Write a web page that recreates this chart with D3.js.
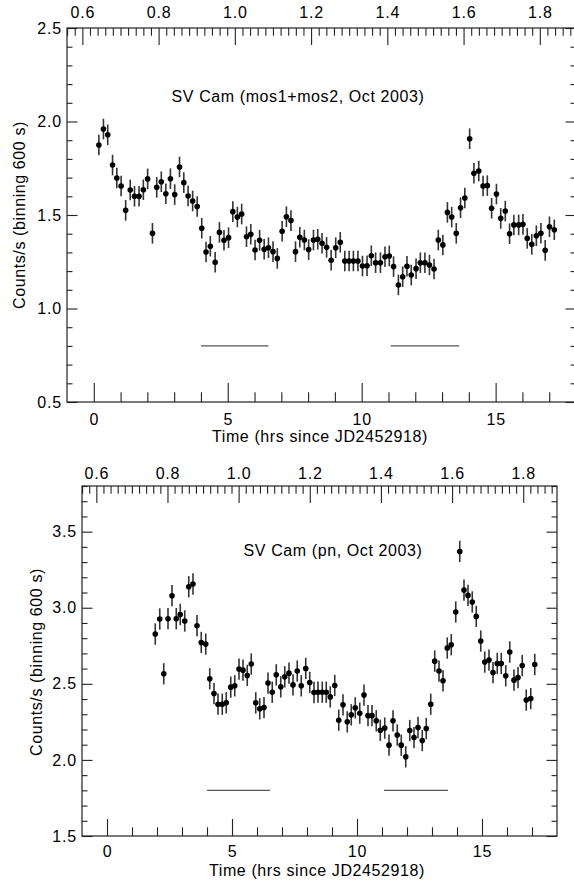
<!DOCTYPE html>
<html>
<head>
<meta charset="utf-8">
<script src="https://cdn.jsdelivr.net/npm/d3@7"></script>
<style>
  body { margin: 0; background: #fff; }
  svg { display: block; }
  text { font-family: "Liberation Sans", Arial, Helvetica, sans-serif; fill: #000; }
</style>
</head>
<body>
<svg id="chart" width="574" height="881"></svg>
<script>
// light curves of SV Cam, counts/s in 600 s bins, time in hrs since JD2452918
const mosTime = [0.19,0.36,0.52,0.70,0.86,1.02,1.19,1.36,1.52,1.69,1.85,2.01,2.19,2.35,2.52,2.69,2.86,3.02,3.20,3.36,
  3.52,3.69,3.86,4.03,4.19,4.35,4.53,4.69,4.86,5.03,5.19,5.36,5.52,5.70,5.86,6.02,6.19,6.36,6.52,6.69,
  6.85,7.03,7.19,7.36,7.53,7.69,7.86,8.02,8.20,8.36,8.52,8.69,8.86,9.03,9.20,9.37,9.53,9.69,9.86,10.03,
  10.20,10.36,10.52,10.70,10.87,11.03,11.19,11.37,11.53,11.69,11.85,12.03,12.19,12.36,12.53,12.70,12.86,13.03,13.20,13.36,
  13.53,13.69,13.85,14.03,14.19,14.37,14.53,14.69,14.85,15.03,15.19,15.36,15.52,15.68,15.86,16.02,16.18,16.35,16.52,16.69,
  16.85,17.01,17.19];
const mosRate = [1.874,1.960,1.929,1.767,1.698,1.655,1.525,1.634,1.600,1.600,1.635,1.693,1.402,1.648,1.678,1.614,1.694,1.609,1.757,1.673,
  1.602,1.575,1.545,1.429,1.302,1.333,1.247,1.407,1.365,1.379,1.518,1.489,1.505,1.384,1.397,1.313,1.365,1.317,1.325,1.304,
  1.268,1.413,1.491,1.470,1.304,1.381,1.366,1.315,1.366,1.370,1.349,1.327,1.258,1.325,1.354,1.254,1.254,1.254,1.254,1.227,
  1.229,1.282,1.245,1.245,1.277,1.281,1.224,1.126,1.170,1.226,1.179,1.213,1.245,1.245,1.233,1.211,1.366,1.340,1.514,1.489,
  1.402,1.539,1.591,1.908,1.723,1.735,1.655,1.657,1.536,1.612,1.482,1.521,1.400,1.447,1.447,1.450,1.375,1.343,1.389,1.402,
  1.311,1.437,1.421];
const mosErr = 0.055;

const pnTime = [1.93,2.11,2.27,2.44,2.60,2.77,2.93,3.11,3.27,3.44,3.60,3.77,3.95,4.11,4.28,4.44,4.61,4.77,4.95,5.11,
  5.28,5.44,5.61,5.77,5.95,6.11,6.28,6.44,6.61,6.77,6.95,7.11,7.28,7.44,7.61,7.77,7.95,8.11,8.28,8.44,
  8.61,8.77,8.93,9.11,9.27,9.44,9.61,9.77,9.93,10.11,10.28,10.44,10.60,10.77,10.93,11.11,11.28,11.44,11.61,11.77,
  11.95,12.11,12.28,12.44,12.61,12.77,12.95,13.11,13.28,13.44,13.61,13.77,13.95,14.11,14.28,14.44,14.61,14.77,14.95,15.11,
  15.28,15.44,15.61,15.77,15.95,16.11,16.28,16.44,16.61,16.77,16.95,17.11];
const pnRate = [2.827,2.926,2.566,2.928,3.079,2.928,2.956,2.913,3.138,3.156,2.882,2.772,2.761,2.533,2.436,2.366,2.366,2.375,2.478,2.487,
  2.597,2.590,2.555,2.630,2.375,2.336,2.344,2.505,2.445,2.559,2.480,2.546,2.570,2.493,2.584,2.487,2.601,2.509,2.443,2.445,
  2.445,2.445,2.414,2.489,2.261,2.362,2.250,2.296,2.342,2.307,2.426,2.291,2.291,2.257,2.195,2.209,2.097,2.257,2.164,2.097,
  2.020,2.193,2.147,2.213,2.127,2.206,2.366,2.649,2.584,2.520,2.735,2.757,2.972,3.370,3.116,3.081,3.038,2.943,2.781,2.643,
  2.656,2.574,2.634,2.634,2.553,2.709,2.524,2.541,2.620,2.393,2.403,2.627];
const pnErr = 0.07;

// eclipse intervals (hrs), drawn as horizontal bars
const eclipseStart = [4.0, 11.08];
const eclipseEnd = [6.52, 13.64];

// ticks
const hourTicks = [0, 5, 10, 15];
const phaseTicks = [0.6, 0.8, 1.0, 1.2, 1.4, 1.6, 1.8];
const mosYTicks = [0.5, 1.0, 1.5, 2.0, 2.5];
const pnYTicks = [1.5, 2.0, 2.5, 3.0, 3.5];

// orbital phase on the top axis
const PHASE0 = 0.63, PERIOD_HRS = 14.23;
const toPhase = h => PHASE0 + h / PERIOD_HRS;

const svg = d3.select('#chart');
const fmt = d3.format('.1f');

function drawPanel(p) {
  const x = d3.scaleLinear().domain([-1, 18]).range([p.left, p.right]);
  const ph = d3.scaleLinear().domain([toPhase(-1), toPhase(18)]).range([p.left, p.right]);
  const y = d3.scaleLinear().domain(p.yDomain).range([p.bottom, p.top]);
  const g = svg.append('g');

  // minor tick lists
  const hrMinor = d3.range(0, 18).filter(v => hourTicks.indexOf(v) < 0);
  const phMinor = d3.range(56, 190, 2).map(v => v / 100)
    .filter(v => v >= ph.domain()[0] && v <= ph.domain()[1] && Math.round(v * 100) % 20 !== 0);
  const yMinor = d3.range(Math.round(p.yDomain[0] * 10), Math.round(p.yDomain[1] * 10) + 1)
    .map(v => v / 10).filter(v => Math.round(v * 10) % 5 !== 0);

  // bottom (hrs)
  g.append('g').attr('transform', `translate(0,${p.bottom})`)
    .call(d3.axisBottom(x).tickValues(hrMinor).tickSizeInner(-p.bxMinor).tickSizeOuter(0).tickFormat(''));
  g.append('g').attr('transform', `translate(0,${p.bottom})`)
    .call(d3.axisBottom(x).tickValues(hourTicks).tickSizeInner(-p.bxMajor).tickSizeOuter(0)
      .tickPadding(p.bxPad).tickFormat(d3.format('d')));

  // top (phase)
  g.append('g').attr('transform', `translate(0,${p.top})`)
    .call(d3.axisTop(ph).tickValues(phMinor).tickSizeInner(-7.7).tickSizeOuter(0).tickFormat(''));
  g.append('g').attr('transform', `translate(0,${p.top})`)
    .call(d3.axisTop(ph).tickValues(phaseTicks).tickSizeInner(-17).tickSizeOuter(0)
      .tickPadding(p.txPad).tickFormat(fmt));

  // left / right
  g.append('g').attr('transform', `translate(${p.left},0)`)
    .call(d3.axisLeft(y).tickValues(yMinor).tickSizeInner(-5.5).tickSizeOuter(0).tickFormat(''));
  g.append('g').attr('transform', `translate(${p.left},0)`)
    .call(d3.axisLeft(y).tickValues(p.yTicks).tickSizeInner(-10.5).tickSizeOuter(0)
      .tickPadding(5).tickFormat(fmt));
  g.append('g').attr('transform', `translate(${p.right},0)`)
    .call(d3.axisRight(y).tickValues(yMinor).tickSizeInner(-5.5).tickSizeOuter(0).tickFormat(''));
  g.append('g').attr('transform', `translate(${p.right},0)`)
    .call(d3.axisRight(y).tickValues(p.yTicks).tickSizeInner(-10.5).tickSizeOuter(0).tickFormat(''));

  g.selectAll('.domain').remove();
  g.selectAll('.tick line').attr('stroke', '#222').attr('stroke-width', 1.1);
  g.selectAll('.tick text').attr('font-size', 16).attr('font-family', null)
    .style('letter-spacing', '0.8px');

  // frame
  g.append('rect')
    .attr('x', p.left).attr('y', p.top)
    .attr('width', p.right - p.left).attr('height', p.bottom - p.top)
    .attr('fill', 'none').attr('stroke', '#222').attr('stroke-width', 1.2);

  // eclipse bars
  g.selectAll('.ecl').data(d3.zip(eclipseStart, eclipseEnd)).enter()
    .append('line').attr('class', 'ecl')
    .attr('x1', d => x(d[0])).attr('x2', d => x(d[1]))
    .attr('y1', y(p.barLevel)).attr('y2', y(p.barLevel))
    .attr('stroke', '#555').attr('stroke-width', 1.2);

  // data points with error bars
  const pts = d3.zip(p.time, p.rate);
  g.selectAll('.err').data(pts).enter()
    .append('line').attr('class', 'err')
    .attr('x1', d => x(d[0])).attr('x2', d => x(d[0]))
    .attr('y1', d => y(d[1] - p.err)).attr('y2', d => y(d[1] + p.err))
    .attr('stroke', '#333').attr('stroke-width', 1.6);
  g.selectAll('.pt').data(pts).enter()
    .append('circle').attr('class', 'pt')
    .attr('cx', d => x(d[0])).attr('cy', d => y(d[1])).attr('r', 2.8)
    .attr('fill', '#000');

  // labels
  g.append('text').attr('x', p.titleX).attr('y', p.titleY)
    .attr('text-anchor', 'middle').attr('font-size', 16).style('letter-spacing', '0.6px')
    .text(p.title);
  g.append('text').attr('x', p.xLabelX).attr('y', p.xLabelY)
    .attr('text-anchor', 'middle').attr('font-size', 16).style('letter-spacing', '0.6px')
    .text('Time (hrs since JD2452918)');
  g.append('text')
    .attr('transform', `translate(${p.yLabelX},${p.yLabelY}) rotate(-90)`)
    .attr('text-anchor', 'middle').attr('font-size', 16).style('letter-spacing', '0.6px')
    .text('Counts/s (binning 600 s)');
}

drawPanel({
  left: 67, right: 576, top: 28, bottom: 402,
  yDomain: [0.5, 2.5], yTicks: mosYTicks,
  time: mosTime, rate: mosRate, err: mosErr, barLevel: 0.8,
  bxMajor: 19, bxMinor: 9.7, bxPad: 12, txPad: 10,
  title: 'SV Cam (mos1+mos2, Oct 2003)', titleX: 298, titleY: 102,
  xLabelX: 320, xLabelY: 442, yLabelX: 25, yLabelY: 215
});

drawPanel({
  left: 82, right: 557, top: 486, bottom: 836,
  yDomain: [1.5, 3.8], yTicks: pnYTicks,
  time: pnTime, rate: pnRate, err: pnErr, barLevel: 1.8,
  bxMajor: 17, bxMinor: 8.7, bxPad: 10, txPad: 7,
  title: 'SV Cam (pn, Oct 2003)', titleX: 333, titleY: 556,
  xLabelX: 317, xLabelY: 876, yLabelX: 42, yLabelY: 662
});
</script>
</body>
</html>
